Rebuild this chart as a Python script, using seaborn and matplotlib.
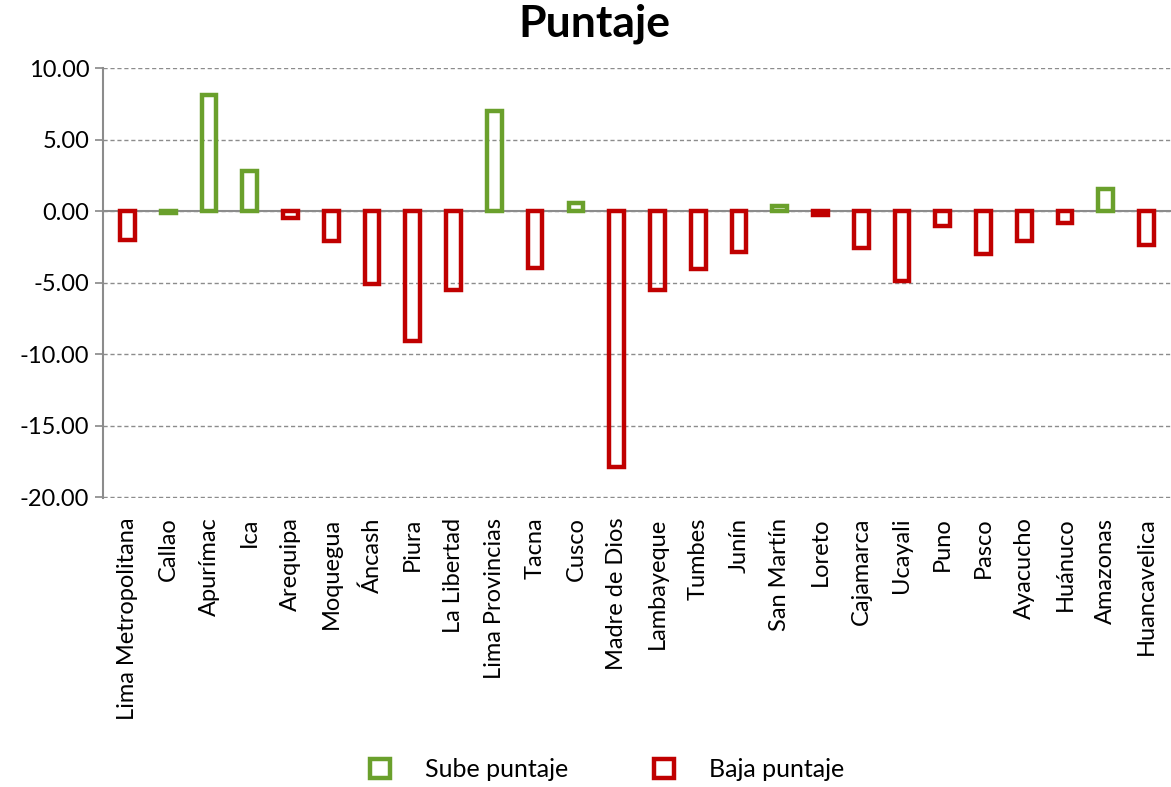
import matplotlib
matplotlib.use("Agg")
import matplotlib.pyplot as plt
import seaborn as sns
import pandas as pd
from matplotlib.ticker import FormatStrFormatter

regions = ["Lima Metropolitana", "Callao", "Apurímac", "Ica", "Arequipa", "Moquegua",
           "Áncash", "Piura", "La Libertad", "Lima Provincias", "Tacna", "Cusco",
           "Madre de Dios", "Lambayeque", "Tumbes", "Junín", "San Martín", "Loreto",
           "Cajamarca", "Ucayali", "Puno", "Pasco", "Ayacucho", "Huánuco",
           "Amazonas", "Huancavelica"]
values = [-2.0, -0.1, 8.1, 2.8, -0.5, -2.1,
          -5.05, -9.1, -5.5, 7.0, -3.95, 0.55,
          -17.9, -5.5, -4.05, -2.85, 0.35, -0.25,
          -2.55, -4.9, -1.05, -3.0, -2.05, -0.8,
          1.55, -2.35]
series = ["Baja puntaje", "Sube puntaje", "Sube puntaje", "Sube puntaje", "Baja puntaje", "Baja puntaje",
          "Baja puntaje", "Baja puntaje", "Baja puntaje", "Sube puntaje", "Baja puntaje", "Sube puntaje",
          "Baja puntaje", "Baja puntaje", "Baja puntaje", "Baja puntaje", "Sube puntaje", "Baja puntaje",
          "Baja puntaje", "Baja puntaje", "Baja puntaje", "Baja puntaje", "Baja puntaje", "Baja puntaje",
          "Sube puntaje", "Baja puntaje"]
series_order = ["Sube puntaje", "Baja puntaje"]
palette = {"Sube puntaje": "#6aa02c", "Baja puntaje": "#c00000"}

df = pd.DataFrame({"Región": regions, "Puntaje": values, "Serie": series})

sns.set_theme(style="white")
plt.rcParams["font.family"] = ["Lato", "DejaVu Sans"]
plt.rcParams["text.color"] = "black"
plt.rcParams["xtick.color"] = "black"
plt.rcParams["ytick.color"] = "black"

fig = plt.figure(figsize=(11.71, 7.87), dpi=100)
ax = fig.add_axes([0.088, 0.367, 0.912, 0.5467])

sns.barplot(data=df, x="Región", y="Puntaje", hue="Serie", hue_order=series_order,
            palette=palette, dodge=False, fill=False, width=0.36, linewidth=3.2,
            order=regions, ax=ax, zorder=3)

ax.set_ylim(-20.05, 10.02)
ax.set_yticks([-20, -15, -10, -5, 0, 5, 10])
ax.yaxis.set_major_formatter(FormatStrFormatter("%.2f"))
ax.set_xlim(-0.6, len(regions) - 0.4)
ax.grid(axis="y", color="#8c8c8c", linestyle=(0, (3, 2)), linewidth=1)
ax.axhline(0, color="#8c8c8c", linewidth=1.5, zorder=2)
for s in ["top", "right", "bottom"]:
    ax.spines[s].set_visible(False)
ax.spines["left"].set_color("#8c8c8c")
ax.spines["left"].set_linewidth(1.5)
ax.tick_params(axis="y", left=True, length=6, color="#8c8c8c", labelsize=17, pad=4,
               labelcolor="black")
ax.tick_params(axis="x", bottom=False, labelsize=17, rotation=90, pad=8, labelcolor="black")
ax.set_xlabel("")
ax.set_ylabel("")
fig.suptitle("Puntaje", x=0.508, y=0.995, fontsize=32, fontweight="bold", color="black")

sns.move_legend(ax, "lower center", bbox_to_anchor=(0.472, -0.71), ncol=2, frameon=False,
                title=None, fontsize=18, handlelength=0.8, handleheight=0.8,
                columnspacing=3.4, handletextpad=1.4)

fig.savefig("out.png", dpi=100)
